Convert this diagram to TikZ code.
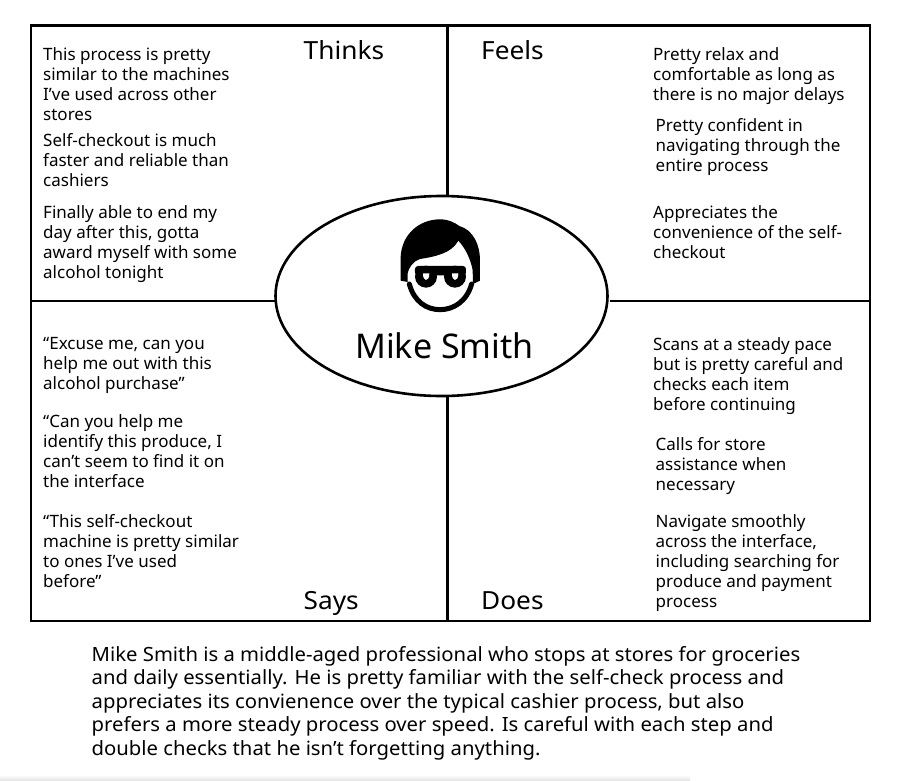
\documentclass[tikz,border=0pt]{standalone}
\usepackage{fontspec}
\setmainfont{Noto Sans}
\newfontfamily\widefont[FakeStretch=1.05]{Noto Sans}
\newfontfamily\sumfont[FakeStretch=1.035]{Noto Sans}
\tikzset{
 px/.style={x=1pt,y=-1pt},
 rule/.style={line width=2.6pt,black},
 cell/.style={anchor=north west,inner sep=0pt,align=left,font=\fontsize{17}{20}\selectfont},
 head/.style={anchor=base west,inner sep=0pt,font=\widefont\fontsize{25}{28}\selectfont},
}
\begin{document}
\begin{tikzpicture}[px]
\useasboundingbox (0,0) rectangle (902,780);
\fill[white] (0,0) rectangle (902,780);
\shade[top color=white,bottom color=black!10] (0,775) rectangle (690,780);
\draw[rule] (447.5,25) -- (447.5,200);
\draw[rule] (447.5,396) -- (447.5,621);
\draw[rule] (31,301) -- (275,301);
\draw[rule] (610,301) -- (870,301);
\draw[rule] (31,25.5) rectangle (870,621);
\draw[rule,fill=white] (441.5,296) ellipse [x radius=166,y radius=100];
% face icon
\begin{scope}[shift={(340,190)},x=0.3333pt,y=-0.3333pt]
\fill (182,272) -- (182,200) .. controls (186,130) and (240,88) .. (300,88)
 .. controls (325,88) and (345,98) .. (358,108) .. controls (400,120) and (420,165) .. (420,210)
 -- (420,272) -- (399,282) -- (398,240) .. controls (390,200) and (372,170) .. (355,152)
 .. controls (335,190) and (285,200) .. (240,207) .. controls (220,212) and (205,235) .. (203,250)
 -- (203,276) -- cycle;
\draw[line width=5pt,line cap=round] (208,282) .. controls (222,335) and (260,359) .. (300,359)
 .. controls (340,359) and (380,335) .. (395,282);
\fill[rounded corners=3pt] (225,228) rectangle (378,256);
\fill (258,260) circle [radius=33];
\fill (345,260) circle [radius=33];
\fill[white] (249,250) -- (268,250) .. controls (268,263) and (264,270) .. (258,270) .. controls (253,270) and (249,263) .. (249,250) -- cycle;
\fill[white] (336,250) -- (355,250) .. controls (355,263) and (351,270) .. (345,270) .. controls (340,270) and (336,263) .. (336,250) -- cycle;
\end{scope}
\node[anchor=base,inner sep=0pt,font=\fontsize{34}{40}\selectfont] (name) at (444.5,358) {Mike Smith};
\node[head] (thinks) at (303.5,59.5) {Thinks};
\node[head] (feels) at (481,59.5) {Feels};
\node[head] (says) at (303.5,609.5) {Says};
\node[head] (does) at (481,609.5) {Does};
% Thinks
\node[cell] (t1) at (43,47.5) {This process is pretty\\similar to the machines\\I’ve used across other\\stores};
\node[cell] (t2) at (43,133.5) {Self-checkout is much\\faster and reliable than\\cashiers};
\node[cell] (t3) at (43,205.5) {Finally able to end my\\day after this, gotta\\award myself with some\\alcohol tonight};
% Feels
\node[cell] (f1) at (653,47.5) {Pretty relax and\\comfortable as long as\\there is no major delays};
\node[cell] (f2) at (655.5,118.5) {Pretty confident in\\navigating through the\\entire process};
\node[cell] (f3) at (653,205.5) {Appreciates the\\convenience of the self-\\checkout};
% Says
\node[cell] (s1) at (43,337.5) {“Excuse me, can you\\help me out with this\\alcohol purchase”};
\node[cell] (s2) at (43,414.5) {“Can you help me\\identify this produce, I\\can’t seem to find it on\\the interface};
\node[cell] (s3) at (43,514.5) {“This self-checkout\\machine is pretty similar\\to ones I’ve used\\before”};
% Does
\node[cell] (d1) at (653,337.5) {Scans at a steady pace\\but is pretty careful and\\checks each item\\before continuing};
\node[cell] (d2) at (655.5,437.5) {Calls for store\\assistance when\\necessary};
\node[cell] (d3) at (655.5,514.5) {Navigate smoothly\\across the interface,\\including searching for\\produce and payment\\process};
% Summary
\node[anchor=north west,inner sep=0pt,align=left,font=\sumfont\fontsize{19.6}{23.4}\selectfont] (summary) at (91.5,646.3) {Mike Smith is a middle-aged professional who stops at stores for groceries\\and daily essentially. He is pretty familiar with the self-check process and\\appreciates its convienence over the typical cashier process, but also\\prefers a more steady process over speed. Is careful with each step and\\double checks that he isn’t forgetting anything.};
\end{tikzpicture}
\end{document}
